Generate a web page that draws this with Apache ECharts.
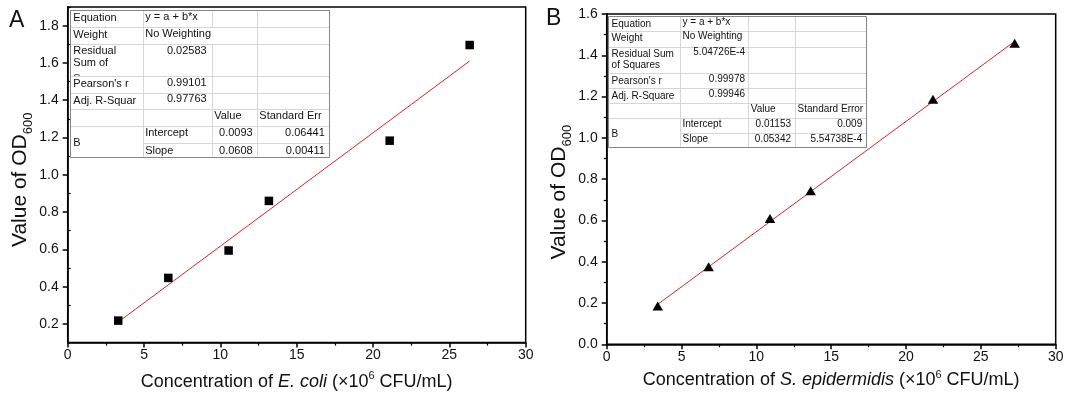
<!DOCTYPE html>
<html>
<head>
<meta charset="utf-8">
<script src="https://cdn.jsdelivr.net/npm/echarts@6/dist/echarts.min.js"></script>
<style>
html, body { margin: 0; padding: 0; background: #fff; }
#c { width: 1070px; height: 401px; }
</style>
</head>
<body>
<div id="c"></div>
<script>
// ---- Panel A: E. coli calibration ----
const ecoliConc = [3.31, 6.59, 10.54, 13.18, 21.09, 26.33];
const ecoliOD = [0.218, 0.447, 0.594, 0.860, 1.183, 1.696];
const ecoliIntercept = 0.0093;
const ecoliSlope = 0.0608;
const ecoliStats = ['y = a + b*x', 'No Weighting', '0.02583', '0.99101', '0.97763'];
const ecoliErrors = ['0.06441', '0.00411'];
const ecoliRowLabels = ['Equation', 'Weight', 'Residual\nSum of\nSquares', "Pearson's r", 'Adj. R-Squar'];
const ecoliHeads = ['Value', 'Standard Err'];

// ---- Panel B: S. epidermidis calibration ----
const sepiConc = [3.41, 6.81, 10.91, 13.63, 21.80, 27.26];
const sepiOD = [0.186, 0.376, 0.609, 0.744, 1.187, 1.458];
const sepiIntercept = 0.01153;
const sepiSlope = 0.05342;
const sepiStats = ['y = a + b*x', 'No Weighting', '5.04726E-4', '0.99978', '0.99946'];
const sepiErrors = ['0.009', '5.54738E-4'];
const sepiRowLabels = ['Equation', 'Weight', 'Residual Sum\nof Squares', "Pearson's r", 'Adj. R-Square'];
const sepiHeads = ['Value', 'Standard Error'];

// ---- Axis ticks ----
const concTicks = [0, 5, 10, 15, 20, 25, 30];
const odTicksA = [0.2, 0.4, 0.6, 0.8, 1.0, 1.2, 1.4, 1.6, 1.8];
const odMinorA = [0.1, 0.3, 0.5, 0.7, 0.9, 1.1, 1.3, 1.5, 1.7, 1.9];
const odTicksB = [0.0, 0.2, 0.4, 0.6, 0.8, 1.0, 1.2, 1.4, 1.6];

const FONT = '"Liberation Sans", Arial, Helvetica, sans-serif';
const INK = '#111';

function fitEnds(xs, a, b) {
  const x0 = Math.min(...xs), x1 = Math.max(...xs);
  return [[x0, a + b * x0], [x1, a + b * x1]];
}

function crisp(v) { return Math.round(v) + 0.5; }

// Builds an Origin-style fit statistics table out of graphic elements
function buildTable(o) {
  const els = [];
  const c = o.cols, r = o.rows;
  const font = o.fs + 'px ' + FONT;
  const text = (t, x, y, align, z) => els.push({
    type: 'text', z: z || 24, silent: true,
    style: { text: t, x: x, y: y, font: font, fill: INK,
      textAlign: align, textVerticalAlign: 'middle' }
  });
  const line = (x1, y1, x2, y2, col) => els.push({
    type: 'line', z: 23, silent: true,
    shape: { x1: x1, y1: y1, x2: x2, y2: y2 },
    style: { stroke: col, lineWidth: 1 }
  });

  // background
  els.push({ type: 'rect', z: 20, silent: true,
    shape: { x: c[0], y: r[0], width: c[4] - c[0], height: r[8] - r[0] },
    style: { fill: '#fff' } });

  // row labels (a wrapped label may spill past its cell and gets cut off)
  o.labels.forEach((t, i) => {
    const parts = t.split('\n');
    if (parts.length > 1) {
      parts.forEach((p, k) => text(p, c[0] + 3.3, r[i] + o.wrapYs[k], 'left', 21));
    } else {
      text(t, c[0] + 3.3, r[i] + o.lab, 'left');
    }
  });
  els.push({ type: 'rect', z: 22, silent: true,
    shape: { x: c[0] + 0.5, y: r[3], width: c[4] - c[0] - 1, height: r[4] - r[3] },
    style: { fill: '#fff' } });

  // grid lines
  const g = '#d6d6d6';
  for (let i = 1; i <= 7; i++) {
    const y = crisp(r[i]);
    line(i === 7 ? crisp(c[1]) : c[0], y, c[4], y, g);
  }
  [1, 2, 3].forEach(k => {
    for (let j = 0; j < 8; j++) {
      if (o.skip && o.skip.some(s => s[0] === j && s[1] === k)) continue;
      line(crisp(c[k]), r[j], crisp(c[k]), r[j + 1], g);
    }
  });
  // outer border
  els.push({ type: 'rect', z: 25, silent: true,
    shape: { x: crisp(c[0]), y: crisp(r[0]), width: Math.round(c[4] - c[0]), height: Math.round(r[8] - r[0]) },
    style: { fill: 'none', stroke: '#858585', lineWidth: 1 } });

  // statistics
  text(o.stats[0], c[1] + 2.5, r[0] + o.val, 'left');
  text(o.stats[1], c[1] + 2.5, r[1] + o.val, 'left');
  for (let i = 2; i < 5; i++) text(o.stats[i], c[2] - o.valRight, r[i] + o.val, 'right');

  // parameter block
  text(o.heads[0], c[2] + 2.5, r[5] + o.par, 'left');
  text(o.heads[1], c[3] + 2.6, r[5] + o.par, 'left');
  text('B', c[0] + 3.3, (r[6] + r[8]) / 2 + 1.5, 'left');
  o.params.forEach((p, i) => {
    const y = r[6 + i] + o.par;
    text(p[0], c[1] + 2.5, y, 'left');
    text(p[1], c[3] - 4, y, 'right');
    text(p[2], c[4] - 4.5, y, 'right');
  });
  return els;
}

const tableA = buildTable({
  cols: [70, 142.7, 211.7, 256.7, 329.3],
  rows: [10, 27.3, 44, 76, 92.7, 108.7, 126, 143.3, 156.7],
  fs: 11, wrapYs: [7.2, 18.5, 34.5], lab: 8, val: 6.5, par: 7.4, valRight: 5,
  skip: [[1, 2]],
  labels: ecoliRowLabels, stats: ecoliStats, heads: ecoliHeads,
  params: [['Intercept', String(ecoliIntercept), ecoliErrors[0]],
           ['Slope', String(ecoliSlope), ecoliErrors[1]]]
});

const tableB = buildTable({
  cols: [608.3, 680, 748.3, 795, 866.7],
  rows: [16, 30.7, 46.7, 73.3, 88.3, 103.3, 118.3, 133.3, 147.3],
  fs: 10, wrapYs: [7.5, 18.5], lab: 7.8, val: 6, par: 6, valRight: 3.3,
  labels: sepiRowLabels, stats: sepiStats, heads: sepiHeads,
  params: [['Intercept', String(sepiIntercept), sepiErrors[0]],
           ['Slope', String(sepiSlope), sepiErrors[1]]]
});

const axisLineStyle = { color: '#000', width: 1.5 };
const labelStyle = { fontSize: 14, color: INK, fontFamily: FONT };
const xTitleRich = {
  n: { fontSize: 18, fontFamily: FONT, color: INK, lineHeight: 22 },
  i: { fontSize: 18, fontFamily: FONT, color: INK, fontStyle: 'italic', lineHeight: 22 },
  s: { fontSize: 11, fontFamily: FONT, color: INK, verticalAlign: 'top', lineHeight: 22 }
};
const yTitleRich = {
  n: { fontSize: 21, fontFamily: FONT, color: INK, lineHeight: 26 },
  d: { fontSize: 13, fontFamily: FONT, color: INK, verticalAlign: 'bottom', lineHeight: 28 }
};

function xAxisFor(gridIndex, species, gap) {
  return {
    type: 'value', gridIndex: gridIndex, min: concTicks[0], max: concTicks[concTicks.length - 1], interval: 5,
    axisLine: { show: true, onZero: false, lineStyle: axisLineStyle },
    axisTick: { show: true, length: 5, lineStyle: axisLineStyle },
    minorTick: { show: true, splitNumber: 2, length: 3, lineStyle: { color: '#000', width: 1.2 } },
    splitLine: { show: false }, minorSplitLine: { show: false },
    axisLabel: Object.assign({ margin: 6 }, labelStyle),
    name: '{n|Concentration of }{i|' + species + '}{n| (×10}{s|6}{n| CFU/mL)}',
    nameLocation: 'middle', nameGap: gap,
    nameTextStyle: { rich: xTitleRich }
  };
}

const odTitle = '{n|Value of OD}{d|600}';

const option = {
  animation: false,
  backgroundColor: '#fff',
  grid: [
    { left: 67.7, top: 7, width: 458, height: 335.6, show: true, borderColor: '#000', borderWidth: 1.5, backgroundColor: 'transparent' },
    { left: 606.7, top: 14, width: 449, height: 330.3, show: true, borderColor: '#000', borderWidth: 1.5, backgroundColor: 'transparent' }
  ],
  xAxis: [
    xAxisFor(0, 'E. coli', 28),
    xAxisFor(1, 'S. epidermidis', 24)
  ],
  yAxis: [
    {
      type: 'value', gridIndex: 0, min: 0.1, max: 1.9,
      axisLine: { show: true, onZero: false, lineStyle: axisLineStyle },
      axisTick: { show: true, length: 5, lineStyle: axisLineStyle, customValues: odTicksA },
      splitLine: { show: false },
      axisLabel: Object.assign({ margin: 9, customValues: odTicksA, formatter: v => v.toFixed(1) }, labelStyle),
      name: odTitle, nameLocation: 'middle', nameGap: 33,
      nameTextStyle: { rich: yTitleRich, padding: [0, 10, 0, 0] }
    },
    {
      // minor ticks for panel A
      type: 'value', gridIndex: 0, min: 0.1, max: 1.9,
      axisLine: { show: false },
      axisTick: { show: true, length: 3, lineStyle: { color: '#000', width: 1.2 }, customValues: odMinorA },
      axisLabel: { show: false }, splitLine: { show: false }
    },
    {
      type: 'value', gridIndex: 1, min: odTicksB[0], max: odTicksB[odTicksB.length - 1], interval: 0.2,
      axisLine: { show: true, onZero: false, lineStyle: axisLineStyle },
      axisTick: { show: true, length: 5, lineStyle: axisLineStyle },
      minorTick: { show: true, splitNumber: 2, length: 3, lineStyle: { color: '#000', width: 1.2 } },
      splitLine: { show: false }, minorSplitLine: { show: false },
      axisLabel: Object.assign({ margin: 9, formatter: v => v.toFixed(1) }, labelStyle),
      name: odTitle, nameLocation: 'middle', nameGap: 33,
      nameTextStyle: { rich: yTitleRich, padding: [0, 26, 0, 0] }
    }
  ],
  series: [
    {
      type: 'line', xAxisIndex: 0, yAxisIndex: 0, z: 2,
      data: fitEnds(ecoliConc, ecoliIntercept, ecoliSlope),
      showSymbol: false, lineStyle: { color: '#f02020', width: 1 }, silent: true
    },
    {
      type: 'scatter', xAxisIndex: 0, yAxisIndex: 0, z: 3,
      data: ecoliConc.map((x, i) => [x, ecoliOD[i]]),
      symbol: 'rect', symbolSize: 8.5, itemStyle: { color: '#000', opacity: 1 }
    },
    {
      type: 'line', xAxisIndex: 1, yAxisIndex: 2, z: 2,
      data: fitEnds(sepiConc, sepiIntercept, sepiSlope),
      showSymbol: false, lineStyle: { color: '#f02020', width: 1 }, silent: true
    },
    {
      type: 'scatter', xAxisIndex: 1, yAxisIndex: 2, z: 3,
      data: sepiConc.map((x, i) => [x, sepiOD[i]]),
      symbol: 'triangle', symbolSize: [10.5, 9], itemStyle: { color: '#000', opacity: 1 }
    }
  ],
  graphic: [
    { type: 'text', z: 30, silent: true, style: { text: 'A', x: 9, y: 21, font: '23px ' + FONT, fill: INK, textVerticalAlign: 'middle' } },
    { type: 'text', z: 30, silent: true, style: { text: 'B', x: 546, y: 19, font: '23px ' + FONT, fill: INK, textVerticalAlign: 'middle' } }
  ].concat(tableA, tableB)
};

const chart = echarts.init(document.getElementById('c'));
chart.setOption(option);
</script>
</body>
</html>
